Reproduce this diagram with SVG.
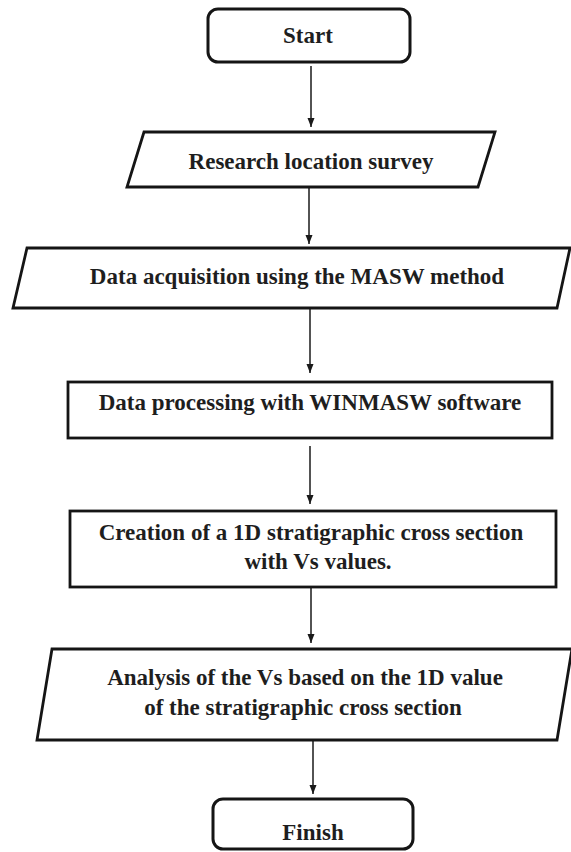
<svg xmlns="http://www.w3.org/2000/svg" width="571" height="852" viewBox="0 0 571 852">
  <style>
    .shape { fill: #ffffff; stroke: #151515; stroke-width: 2.8; stroke-linejoin: miter; }
    .term { fill: #ffffff; stroke: #151515; stroke-width: 3; }
    .label { font-family: "Liberation Serif", "Times New Roman", serif; font-weight: bold; font-size: 23px; fill: #1e1e1e; text-anchor: middle; }
    .flow { stroke: #1a1a1a; stroke-width: 1.5; fill: none; marker-end: url(#arrow); }
  </style>
  <defs>
    <marker id="arrow" markerUnits="userSpaceOnUse" markerWidth="10" markerHeight="12" refX="9" refY="4.5" orient="auto">
      <path d="M0,1 L9,4.5 L0,8 Z" fill="#1a1a1a"/>
    </marker>
  </defs>
  <rect width="571" height="852" fill="#ffffff"/>

  <!-- arrows between consecutive steps -->
  <g id="connectors">
    <line class="flow" x1="311" y1="66" x2="311" y2="127"/>
    <line class="flow" x1="309" y1="188" x2="309" y2="244"/>
    <line class="flow" x1="310" y1="309" x2="310" y2="373"/>
    <line class="flow" x1="310" y1="446" x2="310" y2="504"/>
    <line class="flow" x1="311" y1="588" x2="311" y2="643"/>
    <line class="flow" x1="313" y1="741" x2="313" y2="794"/>
  </g>

  <g id="start">
    <rect class="term" x="208" y="9" width="202" height="53" rx="10"/>
    <text class="label" x="308" y="43">Start</text>
  </g>

  <g id="survey">
    <polygon class="shape" points="144,132 495,132 478,187 127,187"/>
    <text class="label" x="311" y="169">Research location survey</text>
  </g>

  <g id="acquisition">
    <polygon class="shape" points="27,248 570,248 557,308 13,308"/>
    <text class="label" x="297" y="284">Data acquisition using the MASW method</text>
  </g>

  <g id="processing">
    <rect class="shape" x="68" y="382" width="484" height="56"/>
    <text class="label" x="310" y="410">Data processing with WINMASW software</text>
  </g>

  <g id="cross-section">
    <rect class="shape" x="70" y="511" width="486" height="76"/>
    <text class="label" x="311" y="540">Creation of a 1D stratigraphic cross section</text>
    <text class="label" x="318" y="569">with Vs values.</text>
  </g>

  <g id="analysis">
    <polygon class="shape" points="52,649 572,649 557,740 37,740"/>
    <text class="label" x="305" y="685">Analysis of the Vs based on the 1D value</text>
    <text class="label" x="303" y="715">of the stratigraphic cross section</text>
  </g>

  <g id="finish">
    <rect class="term" x="213" y="799" width="200" height="50" rx="10"/>
    <text class="label" x="313" y="840">Finish</text>
  </g>
</svg>
